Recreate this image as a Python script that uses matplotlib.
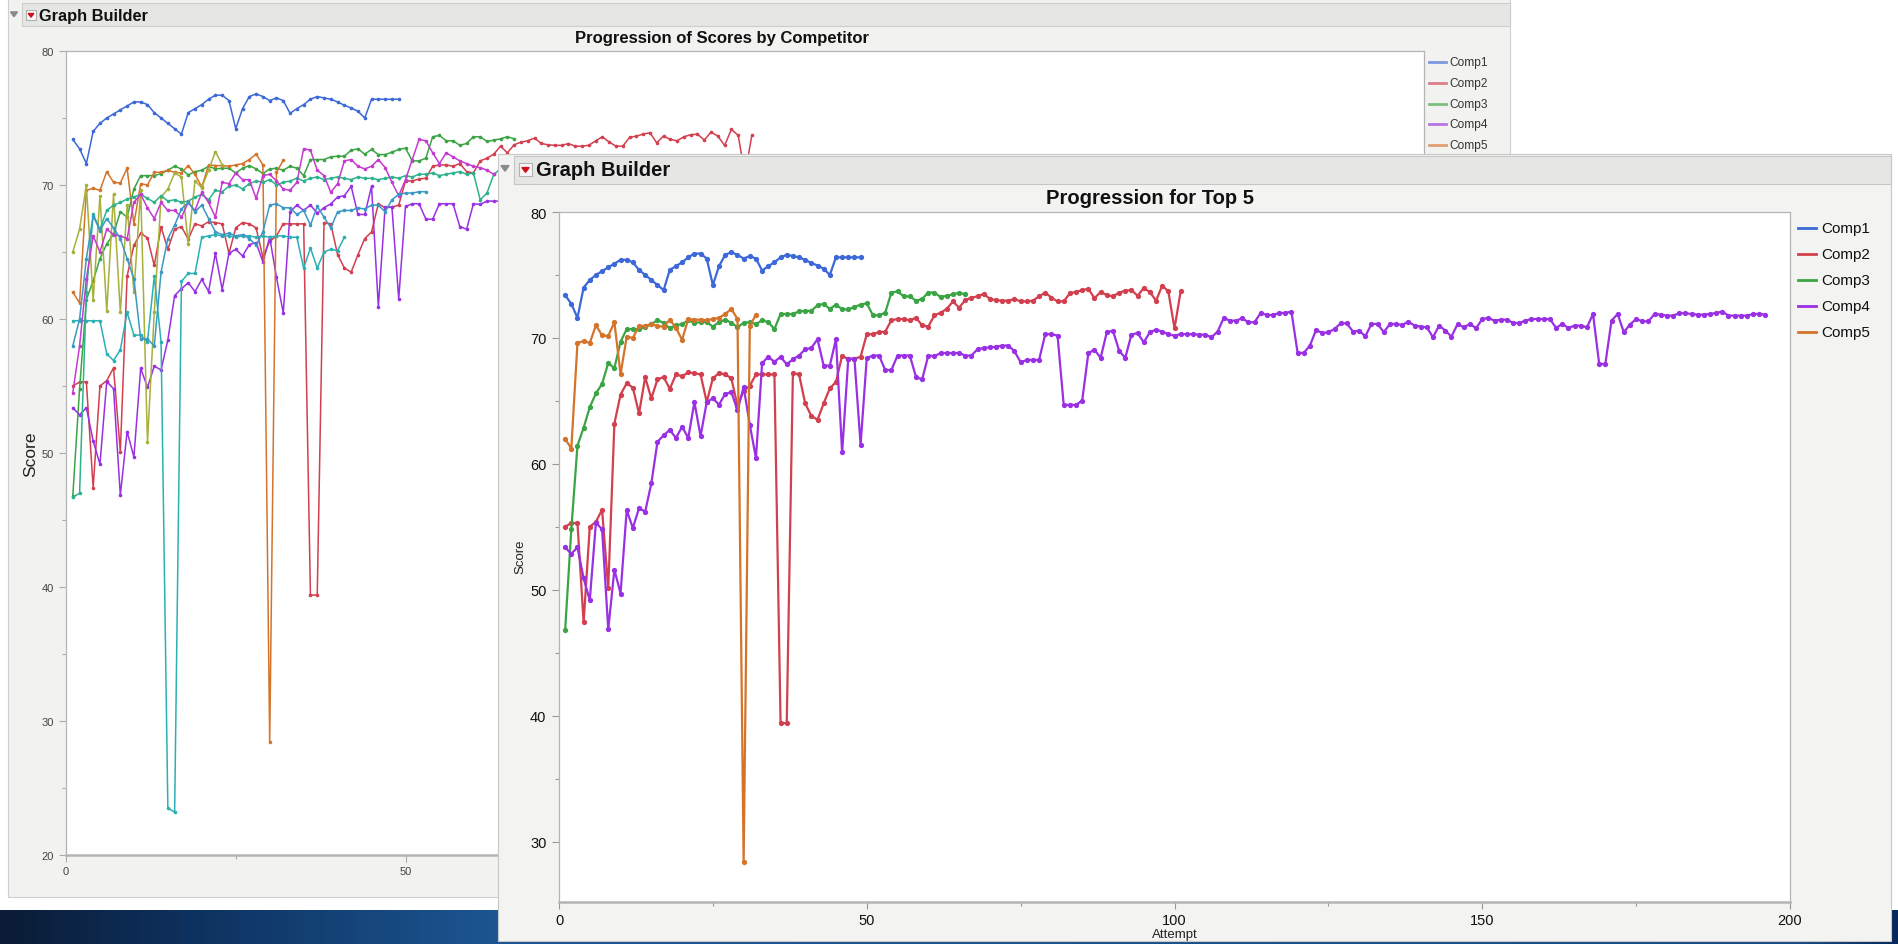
import numpy as np
import matplotlib
matplotlib.use("Agg")
import matplotlib.pyplot as plt
from matplotlib.patches import Rectangle, Polygon
from matplotlib.colors import LinearSegmentedColormap

W, H = 1898, 945
plt.rcParams['font.family'] = ['Liberation Sans', 'DejaVu Sans']

comp1 = [73.4, 72.7, 71.6, 74.0, 74.6, 75.0, 75.3, 75.6, 75.9, 76.2, 76.2, 76.0, 75.4, 75.0, 74.6, 74.2, 73.8,
         75.4, 75.7, 76.0, 76.4, 76.7, 76.7, 76.3, 74.2,
         75.7, 76.6, 76.8, 76.6, 76.3, 76.5, 76.3, 75.35, 75.7, 76.0, 76.4, 76.6, 76.5, 76.4, 76.2, 75.95, 75.75, 75.5,
         75.0, 76.4, 76.4, 76.4, 76.4, 76.4]

comp2 = [55.0, 55.3, 55.3, 47.4, 55.0, 55.4, 56.35, 50.1,
         63.2, 65.5, 66.4, 66.05, 64.0, 66.87, 65.2, 66.7, 66.9, 65.95, 67.1,
         66.95, 67.26, 67.2, 67.1, 64.9, 66.8, 67.2, 67.1, 66.8, 64.6, 65.8, 66.2, 67.1, 67.1, 67.1, 67.1,
         39.4, 39.4, 67.2, 67.1, 64.8, 63.8, 63.5, 64.8, 66.0, 66.5, 68.6, 68.3, 68.35, 68.5,
         70.3, 70.3, 70.45, 70.5, 71.4, 71.5, 71.5, 71.4, 71.6, 71.0, 70.9, 71.8, 72.0, 72.3, 72.9, 72.4,
         73.0, 73.2, 73.3, 73.5, 73.1, 73.0,
         72.96, 72.96, 73.09, 72.9, 72.9, 72.96, 73.3, 73.6, 73.2, 72.9, 72.9, 73.55, 73.65, 73.8, 73.9,
         73.15, 73.65, 73.4, 73.3, 73.6, 73.75, 73.8, 73.35, 73.95, 73.65, 72.95, 74.15, 73.7, 70.75, 73.7]

comp3 = [46.8, 54.8, 61.45, 62.86, 64.5, 65.6, 66.35, 68.0, 67.6, 69.7,
         70.7, 70.7, 70.7, 70.85, 71.1, 71.4, 71.2, 70.75, 71.0, 71.1,
         71.4, 71.2, 71.25, 71.25, 70.9, 71.25, 71.45, 71.2, 70.85, 71.2,
         71.25, 71.1, 71.4, 71.25, 70.7, 71.9, 71.9, 71.9, 72.1, 72.15,
         72.15, 72.6, 72.7, 72.3, 72.65, 72.27, 72.27, 72.45, 72.65, 72.75,
         71.8, 71.8, 72.0, 73.6, 73.7, 73.3, 73.3, 72.96, 73.1, 73.6,
         73.6, 73.25, 73.35, 73.45, 73.6, 73.45]

comp4 = [53.37, 52.85, 53.37, 50.9, 49.16, 55.33, 54.8, 46.85, 51.6, 49.7, 56.32, 54.9, 56.48, 56.2, 58.44,
         61.75, 62.26, 62.7, 62.05, 62.95, 62.05, 64.9,
         62.2, 64.9, 65.2, 64.7, 65.55, 65.7, 64.25, 66.1, 63.1, 60.45, 68.0, 68.5, 68.1, 68.5, 67.9, 68.3,
         68.6, 69.1, 69.2, 69.9, 67.8, 67.8, 69.9, 60.9, 68.35, 68.35, 61.5, 68.4, 68.6, 68.6, 67.45, 67.45,
         68.6, 68.6, 68.6, 66.9, 66.7, 68.6, 68.55, 68.8, 68.8, 68.8, 68.8, 68.6, 68.6, 69.1, 69.2, 69.25, 69.3,
         69.39, 69.39, 68.94, 68.07, 68.25, 68.25, 68.25, 70.3, 70.3, 70.18,
         64.68, 64.68, 64.68, 65.02, 68.78, 69.07, 68.41, 70.45, 70.58, 68.99,
         68.41, 70.26, 70.39, 69.65, 70.45, 70.66, 70.5, 70.3, 70.18, 70.3,
         70.3, 70.3, 70.26, 70.26, 70.05, 70.5, 71.58, 71.37, 71.37, 71.56,
         71.24, 71.24, 71.98, 71.82, 71.82, 71.98, 71.98, 72.09, 68.81, 68.81,
         69.39, 70.63, 70.39, 70.45, 70.71, 71.16, 71.16, 70.5, 70.58, 70.13,
         71.11, 71.11, 70.45, 71.11, 71.11,
         71.03, 71.29, 70.98, 70.9, 70.84, 70.05, 70.98, 70.58, 70.1, 71.11,
         70.84, 71.11, 70.77, 71.5, 71.58, 71.37, 71.45, 71.45, 71.19, 71.19,
         71.37, 71.5, 71.5, 71.5, 71.5, 70.79, 71.11, 70.79, 70.98, 70.98,
         70.84, 71.9, 67.93, 67.93, 71.37, 71.9, 70.45, 71.06, 71.5, 71.32,
         71.32, 71.9, 71.85, 71.77, 71.77, 71.96, 71.96, 71.9, 71.85, 71.85,
         71.9, 71.98, 72.09, 71.77, 71.77, 71.77, 71.77, 71.9, 71.9, 71.85]

comp5 = [62.0, 61.2, 69.6, 69.75, 69.6, 71.0, 70.2, 70.15, 71.25, 67.1, 70.1, 70.0, 70.95, 70.95, 71.1, 70.95,
         70.9, 71.45, 70.8, 69.85, 71.5, 71.45, 71.45, 71.4, 71.5, 71.6, 71.9, 72.3, 71.5, 28.4, 70.95, 71.85]

# extra competitors only visible in the window behind
comp6 = [65.0, 66.7, 70.0, 61.4, 69.2, 60.6, 69.3, 60.5, 68.5, 62.0, 69.6, 50.8, 60.5, 69.1, 69.7, 70.9,
         70.6, 65.6, 70.3, 69.8, 71.1, 72.5, 71.5]
comp7 = [46.7, 47.0, 62.0, 67.8, 66.7, 68.1, 68.5, 68.7, 68.95, 69.1, 69.3, 69.0, 68.7, 69.2, 68.8, 68.9,
         68.7, 68.8, 69.1, 69.3, 68.9, 69.6, 69.5, 69.9, 70.0, 69.7, 70.1, 70.3, 70.2, 70.4, 70.0, 70.2,
         70.3, 70.5, 70.3, 70.5, 70.6, 70.4, 70.5, 70.6, 70.5, 70.4, 70.6, 70.5, 70.5, 70.4, 70.5, 70.6,
         70.5, 70.7, 70.6, 70.8, 70.8, 70.9, 70.7, 70.8, 70.9, 71.0, 70.8, 70.9, 68.9, 69.4, 70.8, 71.2]
comp8 = [59.87, 59.87, 59.87, 59.87, 59.87, 57.4, 56.9, 57.7, 60.5, 58.8, 58.8, 58.3, 63.2, 58.3, 23.5, 23.2,
         62.8, 63.4, 63.4, 66.1, 66.2, 66.3, 66.2, 66.2, 66.1, 66.2, 66.2, 66.1, 66.2, 66.1, 66.2, 66.2,
         66.1, 66.1, 63.8, 65.3, 63.8, 65.0, 65.2, 65.1, 66.1]
comp9 = [54.5, 58.0, 63.0, 66.2, 65.0, 66.7, 66.3, 66.2, 66.0, 68.7, 69.3, 68.3, 67.5, 68.7, 68.1, 68.1,
         67.6, 68.7, 68.1, 69.45, 68.7, 67.6, 70.2, 70.1, 70.9, 70.4, 70.4, 69.0, 70.7, 70.8, 70.3, 69.7,
         69.6, 70.2, 72.7, 72.6, 71.1, 70.7, 69.45, 70.1, 71.8, 71.9, 71.4, 71.2, 71.4, 71.9, 71.3, 70.2,
         69.2, 70.4, 71.9, 73.4, 73.3, 72.4, 71.6, 72.4, 72.1, 71.8, 71.6, 71.4, 71.3, 71.1, 70.8]
comp10 = [58.0, 60.0, 64.5, 67.7, 66.6, 67.5, 66.8, 66.0, 64.5, 63.0, 58.5, 58.5, 58.0, 63.5, 66.0, 67.0,
          68.2, 68.7, 68.0, 68.5, 67.5, 66.5, 66.3, 66.4, 66.2, 66.3, 66.0, 65.5, 66.5, 68.5, 68.6, 68.3,
          68.3, 67.8, 68.1, 67.0, 68.4, 67.6, 66.8, 68.0, 68.1, 68.1, 68.3, 68.2, 68.5, 68.5, 68.0, 68.9,
          69.3, 69.4, 69.4, 69.5, 69.5]

top5_names = ["Comp1", "Comp2", "Comp3", "Comp4", "Comp5"]
top5_values = [comp1, comp2, comp3, comp4, comp5]
top5_colors = ['#3c68d8', '#d23f4e', '#3ba444', '#9930e3', '#d4742a']
extra_values = [comp6, comp7, comp8, comp9, comp10]
extra_colors = ['#a6b03a', '#2db38c', '#2bb0b4', '#c43bcf', '#3a98c4']

fig = plt.figure(figsize=(W / 100, H / 100), dpi=100)
fig.patch.set_facecolor('white')


def box(x0, y0, x1, y1):
    return [x0 / W, 1 - y1 / H, (x1 - x0) / W, (y1 - y0) / H]


def canvas(z):
    ax = fig.add_axes([0, 0, 1, 1], zorder=z)
    ax.axis('off')
    return ax


def finish(ax):
    ax.set_xlim(0, W)
    ax.set_ylim(H, 0)


def red_icon(ax, x0, y0, s):
    ax.add_patch(Rectangle((x0, y0), s, s, facecolor='#f7f7f7', edgecolor='#b0b0b0', lw=0.8))
    ax.add_patch(Polygon([(x0 + s * 0.22, y0 + s * 0.35), (x0 + s * 0.78, y0 + s * 0.35),
                          (x0 + s * 0.5, y0 + s * 0.72)], closed=True, color='#d0101a'))


def gray_tri(ax, cx, cy, s):
    ax.add_patch(Polygon([(cx - s, cy - s * 0.6), (cx + s, cy - s * 0.6), (cx, cy + s * 0.8)],
                         closed=True, color='#8a8a8a'))


def style_axes(ax, label_size, label_color, tick_col):
    for side in ['left', 'right', 'top']:
        ax.spines[side].set_color('#b4b4b4')
        ax.spines[side].set_linewidth(0.9)
    ax.spines['bottom'].set_color('#b4b4b4')
    ax.spines['bottom'].set_linewidth(1.8)
    ax.tick_params(which='major', length=5, width=0.8, color=tick_col,
                   labelsize=label_size, labelcolor=label_color)
    ax.tick_params(which='minor', length=3, width=0.8, color=tick_col)
    ax.tick_params(axis='y', pad=4)
    ax.tick_params(axis='x', pad=3)


# ---- layer 0: slide band and window behind ----
back = canvas(0)
band = LinearSegmentedColormap.from_list('band', [(0, '#0a1c36'), (0.1, '#0e325f'), (0.26, '#1c5592'),
                                                  (0.95, '#174c86'), (1, '#07295a')])
back.imshow(np.linspace(0, 1, 400)[None, :], cmap=band, extent=(0, W, 945, 911), aspect='auto')
back.add_patch(Rectangle((8, 0), 1502, 898, facecolor='#f2f2f0', edgecolor='#cfcfcf', lw=0.8))
back.add_patch(Rectangle((22, 4), 1488, 23, facecolor='#e6e6e4', edgecolor='#cdcdcd', lw=0.8))
gray_tri(back, 14, 15, 3.5)
red_icon(back, 26, 11, 10)
back.text(39, 16, "Graph Builder", fontsize=11.8, fontweight='bold', va='center', ha='left', color='#111')
back.text(722, 39, "Progression of Scores by Competitor", fontsize=12, fontweight='bold',
          va='center', ha='center', color='#111')
back.text(31, 454, "Score", fontsize=12.5, rotation=90, va='center', ha='center', color='#222')
for i, (nm, c) in enumerate(zip(top5_names, top5_colors)):
    yy = 63 + i * 20.8
    back.plot([1429, 1446], [yy, yy], color=c, lw=2, alpha=0.65)
    back.text(1449, yy, nm, fontsize=8.6, va='center', ha='left', color='#333')
finish(back)

# ---- layer 1: plot behind ----
axb = fig.add_axes(box(66, 52, 1424, 856), zorder=1)
for v, c in zip(top5_values + extra_values, top5_colors + extra_colors):
    axb.plot(np.arange(1, len(v) + 1), v, '-o', color=c, lw=1.1, ms=2.6, mew=0)
axb.set_xlim(0, 200)
axb.set_ylim(20, 80)
axb.set_yticks([20, 30, 40, 50, 60, 70, 80])
axb.set_yticks(np.arange(25, 80, 10), minor=True)
axb.set_xticks([0, 50, 100, 150, 200])
axb.set_xticks([25, 75, 125, 175], minor=True)
style_axes(axb, 8, '#444', '#aaaaaa')

# ---- layer 2: front window ----
front = canvas(2)
front.add_patch(Rectangle((498, 155), 1393, 787, facecolor='#f3f3f1', edgecolor='#c8c8c8', lw=0.8))
front.add_patch(Rectangle((514, 157), 1377, 28, facecolor='#e6e6e4', edgecolor='#c6c6c6', lw=0.8))
gray_tri(front, 505, 169, 4)
red_icon(front, 519, 164, 13)
front.text(536, 171, "Graph Builder", fontsize=14.5, fontweight='bold', va='center', ha='left', color='#111')
front.text(1150, 199, "Progression for Top 5", fontsize=14.5, fontweight='bold',
           va='center', ha='center', color='#111')
front.text(520, 557, "Score", fontsize=9.5, rotation=90, va='center', ha='center', color='#222')
front.text(1175, 935, "Attempt", fontsize=9.5, va='center', ha='center', color='#222')
for i, (nm, c) in enumerate(zip(top5_names, top5_colors)):
    yy = 229 + i * 26
    front.plot([1798, 1816], [yy, yy], color=c, lw=2)
    front.text(1821, yy, nm, fontsize=11, va='center', ha='left', color='#111')
finish(front)

# ---- layer 3: front plot ----
axf = fig.add_axes(box(559, 213, 1790, 903), zorder=3)
for v, c in zip(top5_values, top5_colors):
    axf.plot(np.arange(1, len(v) + 1), v, '-o', color=c, lw=1.6, ms=3.8, mew=0)
axf.set_xlim(0, 200)
axf.set_ylim(25.2, 80)
axf.set_yticks([30, 40, 50, 60, 70, 80])
axf.set_yticks(np.arange(35, 80, 10), minor=True)
axf.set_xticks([0, 50, 100, 150, 200])
axf.set_xticks([25, 75, 125, 175], minor=True)
style_axes(axf, 10.5, '#111', '#999999')

fig.savefig("out.png", dpi=100, facecolor='white')
